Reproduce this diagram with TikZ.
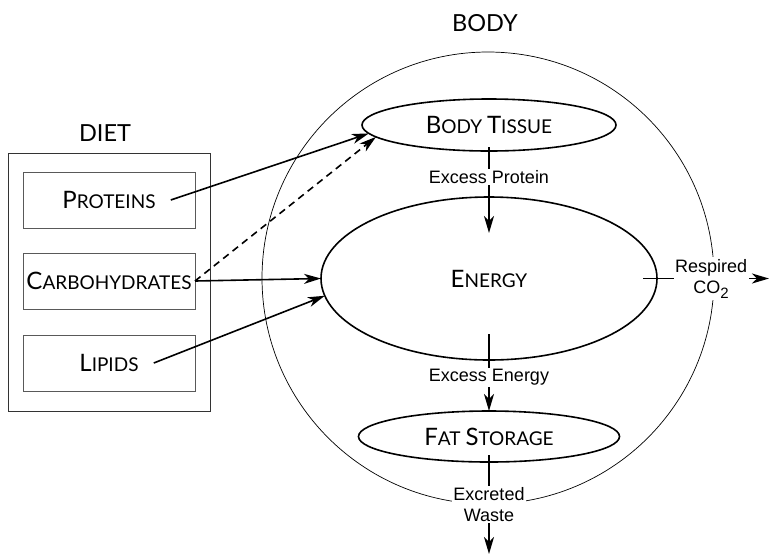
\documentclass[tikz,border=0pt]{standalone}
\usepackage{fontspec}
\setmainfont{Liberation Sans}
\newfontfamily\titlefont{Lato}
\usepackage{tikz}
\usetikzlibrary{shapes.geometric, arrows.meta, positioning}

\newcommand{\smcap}[2]{{\fontsize{24}{28}\selectfont #1}{\fontsize{19}{22}\selectfont #2}}

\begin{document}
\begin{tikzpicture}[
    x=1pt, y=-1pt,
    headText/.style={font=\titlefont\fontsize{23.5}{28}\selectfont, inner sep=0pt},
    dietBox/.style={draw=black!65, line width=0.9pt, minimum width=172pt, minimum height=56pt, inner sep=0pt, outer sep=0pt},
    dietText/.style={font=\titlefont, inner ysep=0pt, inner xsep=15pt},
    poolShape/.style={ellipse, draw=black, line width=1.6pt, font=\titlefont, inner sep=0pt, outer sep=0pt},
    flowLabel/.style={fill=white, inner sep=1.5pt, align=center, font=\fontsize{18}{21}\selectfont},
    arrow/.style={draw=black, line width=1.6pt, -{Stealth[length=17pt, width=10pt, inset=5pt]}}
]
\useasboundingbox (0,0) rectangle (770,558);

% Diet
\node[draw=black!80, line width=0.9pt, minimum width=202pt, minimum height=258pt, outer sep=0pt] (dietFrame) at (109,282) {};
\node[headText] (dietTitle) at (105,133.5) {DIET};

\node[dietBox] (protBox) at (109,200) {};
\node[dietBox] (carbBox) at (109,281) {};
\node[dietBox] (lipBox) at (109,363) {};
\node[dietText] (proteins) at (protBox) {\smcap{P}{ROTEINS}};
\node[dietText] (carbs) at (carbBox) {\smcap{C}{ARBOHYDRATES}};
\node[dietText] (lipids) at (lipBox) {\smcap{L}{IPIDS}};

% Body
\node[circle, draw=black, line width=0.7pt, minimum size=452pt, inner sep=0pt] (body) at (488,278) {};
\node[headText] (bodyTitle) at (485,23.5) {BODY};

\node[poolShape, minimum width=254pt, minimum height=52pt] (tissue) at (489,125) {\smcap{B}{ODY }\smcap{T}{ISSUE}};
\node[poolShape, minimum width=336pt, minimum height=163pt] (energy) at (489,278.5) {\smcap{E}{NERGY}};
\node[poolShape, minimum width=261pt, minimum height=51pt] (fatStore) at (489,436.5) {\smcap{F}{AT }\smcap{S}{TORAGE}};

\coordinate (co2Out) at (769,278.5);
\coordinate (wasteOut) at (489,554);

% intake
\draw[arrow] (proteins.east) -- (tissue.184);
\draw[arrow, dash pattern=on 7pt off 5pt] (carbBox.east) -- (tissue.186);
\draw[arrow] (carbBox.east) -- (energy.west);
\draw[arrow] (lipids.east) -- (energy.186);

% flows
\draw[arrow] ([yshift=4pt]tissue.south) -- node[flowLabel, pos=0.35] {Excess Protein} ([yshift=-36pt]energy.north);
\draw[arrow] ([yshift=26pt]energy.south) -- node[flowLabel, pos=0.56] {Excess Energy} (fatStore.north);
\draw[arrow] ([yshift=7pt]fatStore.south) -- node[flowLabel, pos=0.5] {Excreted\\Waste} (wasteOut);
\draw[arrow] ([xshift=-14pt]energy.east) -- node[flowLabel, pos=0.54] {Respired\\CO\raisebox{-5pt}{\fontsize{15}{15}\selectfont 2}} (co2Out);

\end{tikzpicture}
\end{document}
